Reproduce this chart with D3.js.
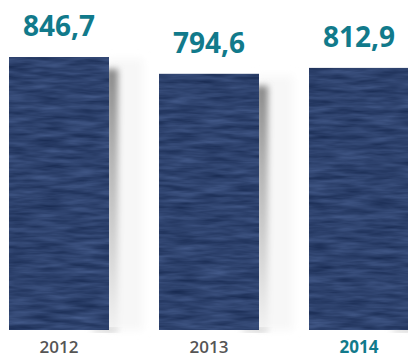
<!DOCTYPE html>
<html>
<head>
<meta charset="utf-8">
<script src="https://cdn.jsdelivr.net/npm/d3@7"></script>
<style>
  html, body { margin: 0; padding: 0; background: #ffffff; }
  svg { display: block; }
</style>
</head>
<body>
<svg id="chart" width="408" height="355"></svg>
<script>
// Yearly totals
const years = ["2012", "2013", "2014"];
const values = [846.7, 794.6, 812.9];
const valueLabels = ["846,7", "794,6", "812,9"];
const highlightYear = "2014";

const svg = d3.select("#chart");
const defs = svg.append("defs");

// Woven, horizontally streaked navy fill
const tex = defs.append("filter").attr("id", "tex")
  .attr("x", 0).attr("y", 0).attr("width", 1).attr("height", 1)
  .attr("color-interpolation-filters", "sRGB");
tex.append("feTurbulence").attr("type", "fractalNoise")
  .attr("baseFrequency", "0.03 0.2").attr("numOctaves", 3).attr("seed", 7).attr("result", "n");
tex.append("feGaussianBlur").attr("in", "n").attr("stdDeviation", "1.2 0.6").attr("result", "nb");
tex.append("feColorMatrix").attr("in", "nb").attr("type", "matrix")
  .attr("values", "0.20 0 0 0 0.08  0.22 0 0 0 0.15  0.26 0 0 0 0.30  0 0 0 0 1")
  .attr("result", "c");
tex.append("feComposite").attr("in", "c").attr("in2", "SourceGraphic").attr("operator", "in");

// Soft drop shadow beside a bar
const blur = defs.append("filter").attr("id", "blur")
  .attr("x", "-50%").attr("y", "-20%").attr("width", "200%").attr("height", "140%");
blur.append("feGaussianBlur").attr("stdDeviation", 3);
const blurWide = defs.append("filter").attr("id", "blurWide")
  .attr("x", "-50%").attr("y", "-20%").attr("width", "200%").attr("height", "140%");
blurWide.append("feGaussianBlur").attr("stdDeviation", 4);

const grad = defs.append("linearGradient").attr("id", "shadeGrad")
  .attr("x1", 0).attr("y1", 0).attr("x2", 0).attr("y2", 1);
grad.append("stop").attr("offset", "0%").attr("stop-color", "#8a8a8a");
grad.append("stop").attr("offset", "35%").attr("stop-color", "#b4b4b4");
grad.append("stop").attr("offset", "100%").attr("stop-color", "#f2f2f2");

const x = d3.scaleBand().domain(years).range([9, 409]).paddingInner(1 / 3).paddingOuter(0);
const y = d3.scaleLinear().domain([0, 846.7]).range([330, 57]);

const data = years.map((yr, i) => ({ year: yr, value: values[i], label: valueLabels[i] }));

// Shadows (drawn first, behind bars)
const sh = svg.append("g");
sh.selectAll("rect.panel").data(data).join("rect")
  .attr("class", "panel")
  .attr("x", d => x(d.year) + x.bandwidth() - 2)
  .attr("y", d => y(d.value) + 2)
  .attr("width", 36)
  .attr("height", d => y(0) - y(d.value) - 2)
  .attr("fill", "#f7f7f7")
  .attr("filter", "url(#blurWide)");
sh.selectAll("rect.shade").data(data).join("rect")
  .attr("class", "shade")
  .attr("x", d => x(d.year) + x.bandwidth() - 4)
  .attr("y", d => y(d.value) + 12)
  .attr("width", 13)
  .attr("height", d => y(0) - y(d.value) - 12)
  .attr("fill", "url(#shadeGrad)")
  .attr("filter", "url(#blur)");
sh.selectAll("ellipse.foot").data(data).join("ellipse")
  .attr("class", "foot")
  .attr("cx", d => x(d.year) + x.bandwidth() - 4)
  .attr("cy", y(0))
  .attr("rx", 14).attr("ry", 2)
  .attr("fill", "#c8c8c8")
  .attr("filter", "url(#blur)");

// Bars
svg.append("g").selectAll("rect").data(data).join("rect")
  .attr("x", d => x(d.year))
  .attr("y", d => y(d.value))
  .attr("width", x.bandwidth())
  .attr("height", d => y(0) - y(d.value))
  .attr("fill", "#2f4270")
  .attr("filter", "url(#tex)");

// Value labels
svg.append("g").selectAll("text").data(data).join("text")
  .attr("x", d => x(d.year) + x.bandwidth() / 2)
  .attr("y", d => y(d.value) - 21)
  .attr("text-anchor", "middle")
  .attr("font-family", "'Open Sans', sans-serif")
  .attr("font-weight", 700)
  .attr("font-size", 28)
  .attr("fill", "#117a8b")
  .text(d => d.label);

// Year axis
const axis = d3.axisBottom(x).tickSize(0).tickPadding(0);
const gAxis = svg.append("g").attr("transform", `translate(0,${y(0)})`).call(axis);
gAxis.select(".domain").remove();
gAxis.selectAll("text")
  .attr("y", 23)
  .attr("dy", 0)
  .attr("font-family", "'Open Sans', sans-serif")
  .attr("font-size", 17)
  .attr("font-weight", d => d === highlightYear ? 700 : 600)
  .attr("fill", d => d === highlightYear ? "#117a8b" : "#555555");
</script>
</body>
</html>
